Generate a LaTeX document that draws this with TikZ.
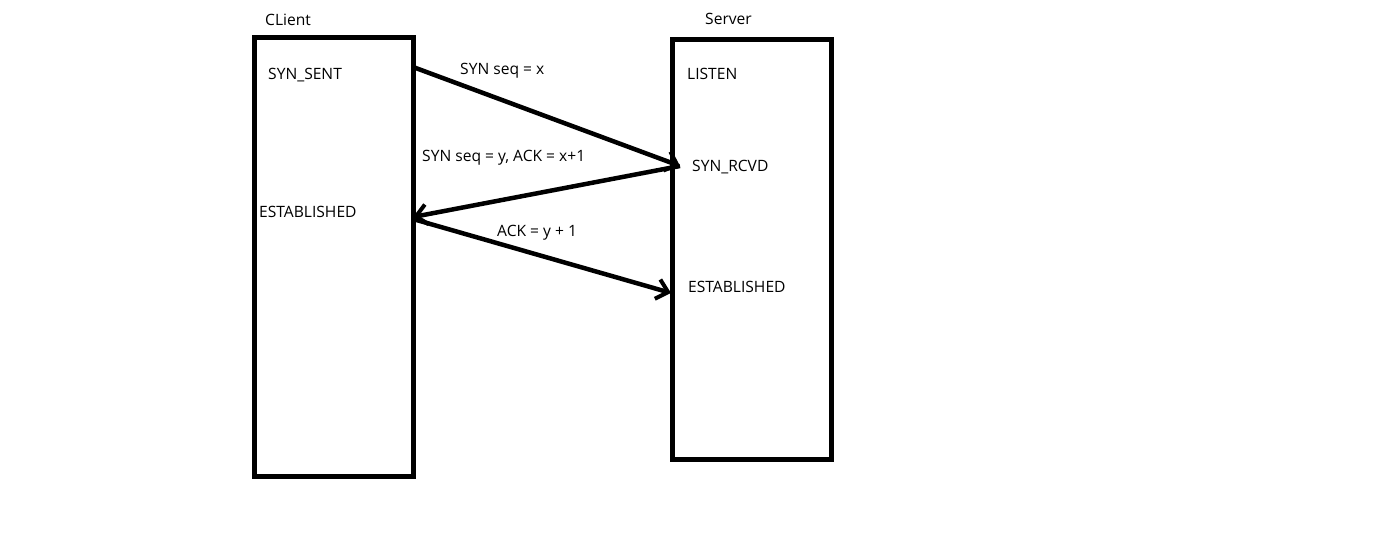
\documentclass[tikz,border=0pt]{standalone}
\usepackage{fontspec}
\setmainfont{Open Sans}
\usetikzlibrary{arrows.meta}
\begin{document}
\begin{tikzpicture}[x=1pt,y=-1pt,
  box/.style={draw, line width=5pt, inner sep=0pt},
  lbl/.style={anchor=west, inner sep=0pt, font=\fontsize{15.6}{18}\selectfont},
  msg/.style={line width=4.5pt, -{Straight Barb[length=11pt,width=20pt,line width=4pt]}}]
\useasboundingbox (0,0) rectangle (1386,551);
\node[box, minimum width=159pt, minimum height=438pt] (client) at (333.5,257) {};
\node[box, minimum width=159pt, minimum height=419pt] (server) at (751.5,249.5) {};
\node[lbl] (cname) at (265,20) {CLient};
\node[lbl] (sname) at (705,19) {Server};
\node[lbl] (csent) at (268,75) {SYN\_SENT};
\node[lbl] (slisten) at (687,74) {LISTEN};
\node[lbl] (m1) at (460,71) {SYN seq = x};
\node[lbl] (m2) at (422,158) {SYN seq = y, ACK = x+1};
\node[lbl] (srcvd) at (692,167) {SYN\_RCVD};
\node[lbl] (cest) at (259,212) {ESTABLISHED};
\node[lbl] (m3) at (497,233) {ACK = y + 1};
\node[lbl] (sest) at (688,287) {ESTABLISHED};
\coordinate (a1s) at (413,67);
\coordinate (a1e) at (680,166);
\coordinate (a2s) at (680,166);
\coordinate (a2e) at (413,217);
\coordinate (a3s) at (413,219);
\coordinate (a3e) at (671,293);
\draw[msg] (a1s) -- (a1e);
\draw[msg] (a2s) -- (a2e);
\draw[msg] (a3s) -- (a3e);
\end{tikzpicture}
\end{document}
